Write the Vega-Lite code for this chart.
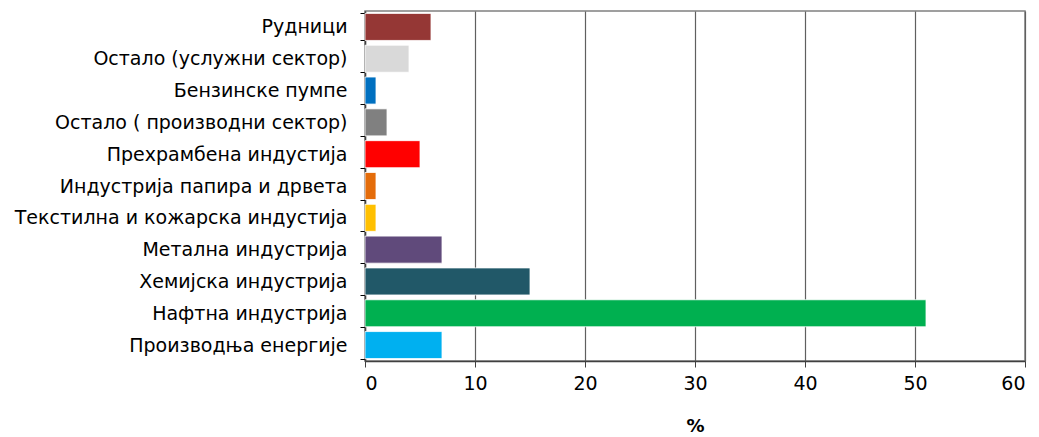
{
  "$schema": "https://vega.github.io/schema/vega-lite/v6.json",
  "autosize": "none",
  "width": 660,
  "height": 350,
  "padding": {"left": 365, "top": 11, "right": 14, "bottom": 76},
  "background": "white",
  "config": {
    "font": "DejaVu Sans",
    "view": {"stroke": "#808080", "strokeWidth": 1.5}
  },
  "data": {
    "values": [
      {"sector": "Рудници", "value": 6, "color": "#953735"},
      {"sector": "Остало (услужни сектор)", "value": 4, "color": "#d9d9d9"},
      {"sector": "Бензинске пумпе", "value": 1, "color": "#0070c0"},
      {"sector": "Остало ( производни сектор)", "value": 2, "color": "#808080"},
      {"sector": "Прехрамбена индустија", "value": 5, "color": "#ff0000"},
      {"sector": "Индустрија папира и дрвета", "value": 1, "color": "#e46c0a"},
      {"sector": "Текстилна и кожарска индустија", "value": 1, "color": "#ffc000"},
      {"sector": "Метална индустрија", "value": 7, "color": "#604a7b"},
      {"sector": "Хемијска индустрија", "value": 15, "color": "#215868"},
      {"sector": "Нафтна индустрија", "value": 51, "color": "#00b050"},
      {"sector": "Производња енергије", "value": 7, "color": "#00b0f0"}
    ]
  },
  "mark": {"type": "bar", "stroke": "white", "strokeWidth": 0.8},
  "encoding": {
    "y": {
      "field": "sector",
      "type": "nominal",
      "sort": null,
      "scale": {"paddingInner": 0.15, "paddingOuter": 0.075},
      "axis": {
        "title": null,
        "tickBand": "extent",
        "tickSize": 5,
        "tickColor": "#000000",
        "domainColor": "#404040",
        "domainWidth": 1.5,
        "labelFontSize": 19,
        "labelColor": "#000000",
        "labelPadding": 13,
        "labelLimit": 400
      }
    },
    "x": {
      "field": "value",
      "type": "quantitative",
      "scale": {"domain": [0, 60], "nice": false},
      "axis": {
        "values": [0, 10, 20, 30, 40, 50, 60],
        "title": "%",
        "titleFontSize": 18,
        "titleFontWeight": "bold",
        "titleColor": "#000000",
        "titlePadding": 24,
        "tickSize": 6,
        "tickColor": "#404040",
        "domainColor": "#404040",
        "domainWidth": 1.5,
        "grid": true,
        "gridColor": "#606060",
        "gridWidth": 1.2,
        "labelFontSize": 19,
        "labelColor": "#000000",
        "labelPadding": 7
      }
    },
    "color": {"field": "color", "type": "nominal", "scale": null, "legend": null}
  }
}
